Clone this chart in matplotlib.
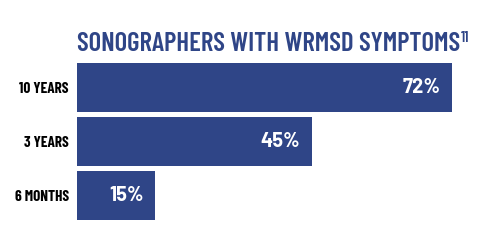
import matplotlib
matplotlib.use("Agg")
import matplotlib.pyplot as plt

categories = ["10 YEARS", "3 YEARS", "6 MONTHS"]
values = [72, 45, 15]
value_labels = ["72%", "45%", "15%"]
title = "SONOGRAPHERS WITH WRMSD SYMPTOMS"
title_sup = "11"

W, H = 483, 242
fig = plt.figure(figsize=(W / 100, H / 100), dpi=100)
ax = fig.add_axes([77 / W, (H - 222.5) / H, 391 / W, 162 / H])
color = "#2f4587"
cond = "Barlow Condensed"

ax.barh(range(len(values)), values, height=0.9, color=color)
ax.set_xlim(0, 75)
ax.set_ylim(2.5, -0.5)
for s in ax.spines.values():
    s.set_visible(False)
ax.set_xticks([])
ax.set_yticks(range(len(categories)))
ax.set_yticklabels(categories, fontfamily=cond, fontweight="bold", fontsize=11, color="black")
ax.tick_params(axis="y", length=0, pad=6)

for i, (v, lab) in enumerate(zip(values, value_labels)):
    ax.annotate(lab, (v, i), xytext=(-8.5, 0), textcoords="offset points",
                ha="right", va="center", color="white", fontweight="bold",
                fontsize=14.5, fontfamily="Barlow")

t = fig.text(77 / W, (H - 51) / H, title, fontfamily=cond, fontweight=600,
             fontsize=19.3, color=color, ha="left", va="baseline")
fig.canvas.draw()
bb = t.get_window_extent()
fig.text(bb.x1 / W + 0.002, (H - 42) / H, title_sup, fontfamily=cond,
         fontweight=600, fontsize=11, color=color, ha="left", va="baseline")
fig.savefig("out.png", dpi=100)
